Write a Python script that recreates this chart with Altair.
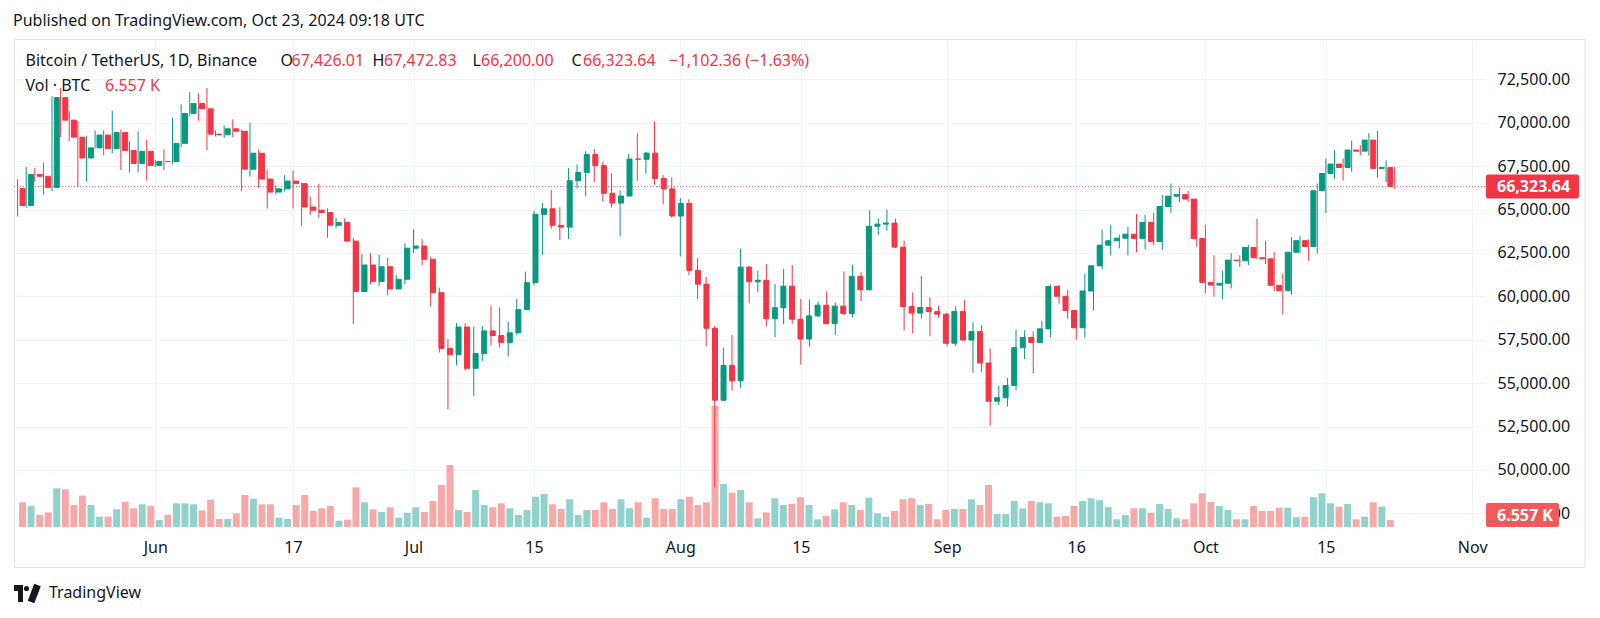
import altair as alt
import pandas as pd
import numpy as np

# ---------------- data (BTC/USDT daily, Binance) ----------------
dates = pd.date_range("2024-05-16", "2024-10-23", freq="D").strftime("%Y-%m-%d").tolist()

opens = [
    66206, 65235, 67024, 66915, 66274, 71446, 70148, 69166, 67969, 68549, 69290, 68507, 69436, 68398, 67652, 68352,
    67540, 67766, 67765, 68809, 70537, 71108, 70800, 69340, 69305, 69648, 69508, 67321, 68243, 66756, 66006, 66191,
    66639, 66490, 65146, 64960, 64828, 64096, 64252, 63180, 60277, 61804, 60864, 61706, 60427, 60986,
    62772, 62900, 62135, 60209, 56999, 56639, 58231, 55857, 56705, 58009, 57742, 57344, 57899, 59231, 60787, 64724,
    65043, 64087, 63987, 66660, 67139, 68165, 67532, 65936, 65372, 65777, 67907, 67896, 68249, 66784, 66188,
    64628, 65354, 61498, 60697, 58161, 54018, 56022, 55134, 61685, 60837, 60923, 58712, 59346, 60587, 58683, 57541,
    58874, 59491, 58427, 59438, 59013, 61156, 60381, 64037, 64157, 64220, 62834, 59415, 59034, 59359, 59123,
    58973, 57301, 59132, 57487, 57970, 56160, 53962, 54160, 54869, 57042, 57635, 57338, 58127, 60571, 60005, 59182,
    58192, 60309, 61759, 62947, 63201, 63348, 63578, 63339, 64262, 63152, 65173, 65769, 65858, 65602,
    63327, 60805, 60649, 60752, 62086, 62058, 62819, 62224, 62160, 60636, 60326, 62540, 63206, 62870, 66083, 67074,
    67620, 67421, 68428, 68362, 69001, 67367, 67426.01,
]
highs = [
    66752, 67451, 67400, 67700, 71515, 71979, 70666, 70096, 69250, 69562, 69562, 70687, 69591, 68935, 69500, 69020,
    67860, 68460, 70288, 71063, 71758, 71700, 71997, 69563, 69852, 70195, 69590, 69999, 68449, 67294, 66402, 66998,
    67244, 66556, 65738, 66482, 65066, 64525, 64490, 63369, 62436, 62480, 62389, 62225, 61224, 63058,
    63861, 63288, 62285, 60498, 57546, 58475, 58449, 58236, 58296, 59470, 59359, 58526, 59850, 61420, 64900, 65388,
    66128, 65133, 67386, 67598, 68366, 68480, 67750, 67102, 66112, 68200, 69399, 68318, 70079, 66986, 66849,
    65659, 65596, 62198, 61117, 58305, 57040, 57782, 62745, 61744, 61470, 61858, 60711, 61578, 61800, 59849,
    59817, 59700, 60284, 59617, 61432, 61820, 61400, 64955, 64494, 65000, 64481, 63212, 60234, 61166, 59944, 59462,
    59054, 59425, 59809, 58519, 58327, 56995, 54850, 55300, 58088, 58044, 57981, 58588, 60670, 60656, 60380,
    59210, 61320, 61786, 63850, 64133, 63559, 64000, 64745, 64688, 64817, 65839, 66498, 66260, 66076, 65630,
    64130, 62370, 61470, 62484, 62370, 62975, 64478, 63200, 62543, 61321, 63417, 63480, 63285, 66500, 67950,
    68424, 67939, 68969, 68691, 69400, 69520, 67836, 67472.83,
]
lows = [
    64602, 65106, 66600, 65857, 66060, 69162, 68920, 66300, 66600, 68510, 68128, 68250, 67277, 67124, 67128, 66670,
    67450, 67257, 67612, 68567, 70383, 70117, 68420, 69210, 69127, 69172, 66051, 66900, 66251, 65056, 65870, 66034,
    65056, 64066, 64693, 64500, 63379, 63943, 63180, 58402, 60240, 60700, 60606, 60063, 60383, 60712,
    62497, 61806, 59400, 56771, 53485, 56018, 55724, 54260, 56289, 57157, 57052, 56542, 57756, 59215, 60632, 62373,
    63900, 63238, 63300, 66222, 65777, 66573, 65441, 65111, 63456, 65754, 66650, 67066, 66428, 65302, 64530,
    62302, 61230, 59850, 57122, 49000, 53970, 54566, 54730, 59600, 60242, 58286, 57642, 58392, 58433, 56078,
    57098, 58785, 58408, 57787, 58913, 58783, 59724, 60345, 63531, 63773, 62800, 58034, 57860, 58716, 57701, 58744,
    57118, 57128, 57415, 55606, 55643, 52550, 53745, 53653, 54591, 56386, 55545, 57324, 57632, 59575, 58696,
    57493, 57610, 59174, 61555, 62350, 62759, 62357, 62538, 62700, 62947, 62670, 64819, 65422, 65432, 62856,
    60164, 59982, 59828, 60459, 61689, 61798, 62128, 61860, 60300, 58946, 60088, 62487, 62050, 62457, 64800,
    66750, 66666, 67177, 68110, 68100, 66840, 66571, 66200.00,
]
closes = [
    65235, 67024, 66915, 66274, 71446, 70148, 69166, 67969, 68549, 69290, 68507, 69436, 68398, 67652, 68352, 67540,
    67766, 67765, 68809, 70537, 71108, 70800, 69340, 69305, 69648, 69508, 67321, 68243, 66756, 66006, 66191, 66639,
    66490, 65146, 64960, 64828, 64096, 64252, 63180, 60277, 61804, 60864, 61706, 60427, 60986, 62772,
    62900, 62135, 60209, 56999, 56639, 58231, 55857, 56705, 58009, 57742, 57344, 57899, 59231, 60787, 64724, 65043,
    64087, 63987, 66660, 67139, 68165, 67532, 65936, 65372, 65777, 67907, 67896, 68249, 66784, 66188, 64628,
    65354, 61498, 60697, 58161, 54018, 56022, 55134, 61685, 60837, 60923, 58712, 59346, 60587, 58683, 57541,
    58874, 59491, 58427, 59438, 59013, 61156, 60381, 64037, 64157, 64220, 62834, 59415, 59034, 59359, 59123, 58973,
    57301, 59132, 57487, 57970, 56160, 53962, 54160, 54869, 57042, 57635, 57338, 58127, 60571, 60005, 59182,
    58192, 60309, 61759, 62947, 63201, 63348, 63578, 63339, 64262, 63152, 65173, 65769, 65858, 65602, 63327,
    60805, 60649, 60752, 62086, 62058, 62819, 62224, 62160, 60636, 60326, 62540, 63206, 62870, 66083, 67074,
    67620, 67421, 68428, 68362, 69001, 67367, 67426, 66323.64,
]
# volume in thousands of BTC
volumes_k = [
    23.1, 19.6, 11.2, 13.7, 36.2, 35.2, 20.6, 29.3, 20.6, 9.6, 9.6, 16.5, 23.6, 17.5, 21.2, 19.6,
    6.5, 11.2, 22.1, 22.1, 21.2, 15.6, 25.5, 7.5, 7.5, 12.8, 29.9, 26.4, 21.2, 21.2, 8.7, 7.5,
    20.6, 29.9, 15.0, 17.5, 19.6, 5.9, 6.8, 37.1, 23.1, 16.5, 14.0, 18.4, 8.7, 13.4,
    18.4, 14.0, 24.3, 39.3, 57.9, 15.9, 14.0, 34.6, 20.6, 18.4, 22.1, 17.5, 11.2, 15.9, 28.3, 30.8,
    21.2, 16.8, 25.9, 11.2, 15.9, 15.9, 23.1, 16.8, 25.9, 17.5, 23.1, 8.7, 26.8, 16.8, 16.8,
    25.9, 28.3, 20.6, 23.1, 113.4, 40.2, 32.1, 34.6, 23.1, 8.1, 13.7, 26.8, 20.6, 21.5, 27.8,
    20.6, 7.2, 10.3, 16.5, 23.1, 20.6, 15.9, 27.4, 12.8, 9.6, 15.0, 25.9, 26.8, 20.6, 21.5, 7.2,
    15.9, 16.8, 16.8, 25.9, 20.6, 39.3, 12.1, 12.1, 24.3, 17.5, 24.3, 23.1, 22.1, 9.6, 10.3,
    19.6, 24.3, 26.8, 25.0, 18.7, 7.2, 11.2, 17.5, 17.5, 13.4, 21.5, 16.8, 8.1, 7.2, 22.1,
    31.5, 23.4, 19.6, 15.9, 7.2, 7.2, 19.6, 15.0, 15.0, 18.0, 18.0, 9.1, 9.6, 27.8, 31.5,
    22.1, 19.0, 21.5, 7.2, 9.6, 23.1, 19.0, 6.557,
]
tick_dates = ["2024-06-01", "2024-06-17", "2024-07-01", "2024-07-15", "2024-08-01", "2024-08-15",
              "2024-09-01", "2024-09-16", "2024-10-01", "2024-10-15", "2024-11-01"]
price_ticks = [47500, 50000, 52500, 55000, 57500, 60000, 62500, 65000, 67500, 70000, 72500]

# ---------------- styling ----------------
FONT = "Noto Sans"
INK = "#131722"
UP, DOWN = "#089981", "#F23645"
VUP, VDOWN = "#92D2CC", "#F7A9A7"
GRID = "#F0F3FA"
W, H = 1471, 487


def ms(s):
    return int(pd.Timestamp(s).value // 1_000_000)


DAY = 86_400_000
t0 = ms(dates[0]) - int(0.4183 * DAY)
t1 = t0 + int(W / 8.607 * DAY)

df = pd.DataFrame({"t": [ms(d) for d in dates], "open": opens, "high": highs,
                   "low": lows, "close": closes, "vol": volumes_k})
df["dir"] = np.where(df["close"] >= df["open"], "up", "down")

xscale = alt.Scale(type="utc", domain=[t0, t1])
pscale = alt.Scale(domain=[46717, 74763], zero=False, nice=False)
vscale = alt.Scale(domain=[0, 455], nice=False)
cscale = alt.Scale(domain=["up", "down"], range=[UP, DOWN])
vcscale = alt.Scale(domain=["up", "down"], range=[VUP, VDOWN])

x_axis = alt.Axis(values=[ms(d) for d in tick_dates],
                  labelExpr="utcdate(datum.value) == 1 ? utcFormat(datum.value, '%b') : utcFormat(datum.value, '%d')",
                  grid=True, gridColor=GRID, domain=False, ticks=False, labelFontSize=16,
                  labelColor=INK, labelFont=FONT, labelPadding=12, title=None,
                  labelOverlap=False, labelFlush=False)
y_axis = alt.Axis(orient="right", values=price_ticks, format=",.2f", grid=True, gridColor=GRID,
                  domain=False, ticks=False, labelPadding=12, labelFontSize=16, labelColor=INK,
                  labelFont=FONT, title=None, labelOverlap=False, labelFlush=False)

base = alt.Chart(df)
X = alt.X("t:T", scale=xscale, axis=None)

volume = base.mark_bar(size=7).encode(
    x=X, y=alt.Y("vol:Q", scale=vscale, axis=None),
    color=alt.Color("dir:N", scale=vcscale, legend=None))

wicks = base.mark_rule(strokeWidth=1).encode(
    x=alt.X("t:T", scale=xscale, axis=x_axis),
    y=alt.Y("low:Q", scale=pscale, axis=y_axis), y2="high:Q",
    color=alt.Color("dir:N", scale=cscale, legend=None))

bodies = base.mark_bar(size=5, strokeWidth=1).encode(
    x=X, y=alt.Y("open:Q", scale=pscale, axis=None), y2="close:Q",
    color=alt.Color("dir:N", scale=cscale, legend=None),
    stroke=alt.Stroke("dir:N", scale=cscale, legend=None))

last = pd.DataFrame({"price": [closes[-1]], "label": [f"{closes[-1]:,.2f}"]})
last_line = alt.Chart(last).mark_rule(color=DOWN, strokeDash=[1, 2], strokeWidth=1, opacity=0.75).encode(
    y=alt.Y("price:Q", scale=pscale, axis=None), x=alt.value(0), x2=alt.value(W))
price_tag = alt.Chart(last).mark_rect(color=DOWN, cornerRadius=2, yOffset=-12, y2Offset=12).encode(
    y=alt.Y("price:Q", scale=pscale, axis=None), y2="price:Q", x=alt.value(1472), x2=alt.value(1565))
price_tag_text = alt.Chart(last).mark_text(align="left", baseline="middle", color="white",
                                           fontWeight="bold", fontSize=16, font=FONT).encode(
    y=alt.Y("price:Q", scale=pscale, axis=None), x=alt.value(1483), text="label:N")

vlast = pd.DataFrame({"label": [f"{volumes_k[-1]:.3f} K"]})
vol_tag = alt.Chart(vlast).mark_rect(color="#F05A5C", cornerRadius=2).encode(
    x=alt.value(1472), x2=alt.value(1545), y=alt.value(463), y2=alt.value(487))
vol_tag_text = alt.Chart(vlast).mark_text(align="left", baseline="middle", color="white",
                                          fontWeight="bold", fontSize=16, font=FONT).encode(
    x=alt.value(1483), y=alt.value(475.5), text="label:N")

# header texts
o, h, l, c = opens[-1], highs[-1], lows[-1], closes[-1]
header = pd.DataFrame([
    {"t": "Published on TradingView.com, Oct 23, 2024 09:18 UTC", "x": -1, "y": -19.5, "c": INK},
    {"t": "Bitcoin / TetherUS, 1D, Binance", "x": 11.5, "y": 21, "c": INK},
    {"t": "O", "x": 266.5, "y": 21, "c": INK},
    {"t": f"{o:,.2f}", "x": 277.5, "y": 21, "c": DOWN},
    {"t": "H", "x": 358.5, "y": 21, "c": INK},
    {"t": f"{h:,.2f}", "x": 370, "y": 21, "c": DOWN},
    {"t": "L", "x": 458.5, "y": 21, "c": INK},
    {"t": f"{l:,.2f}", "x": 467, "y": 21, "c": DOWN},
    {"t": "C", "x": 557.5, "y": 21, "c": INK},
    {"t": f"{c:,.2f}", "x": 569, "y": 21, "c": DOWN},
    {"t": "\u22121,102.36 (\u22121.63%)", "x": 654.5, "y": 21, "c": DOWN},
    {"t": "Vol \u00b7 BTC", "x": 11.5, "y": 46, "c": INK},
    {"t": f"{volumes_k[-1]:.3f} K", "x": 91, "y": 46, "c": DOWN},
    {"t": "TradingView", "x": 35, "y": 553, "c": INK},
])
header_text = alt.Chart(header).mark_text(align="left", baseline="middle", fontSize=16, font=FONT).encode(
    x=alt.X("x:Q", scale=None), y=alt.Y("y:Q", scale=None), text="t:N", color=alt.Color("c:N", scale=None))

# TradingView logo (approximate)
logo_rects = pd.DataFrame({"x": [0, 4], "x2": [9, 9], "y": [545, 545], "y2": [551, 562]})
logo_r = alt.Chart(logo_rects).mark_rect(color=INK).encode(
    x=alt.X("x:Q", scale=None), x2="x2:Q", y=alt.Y("y:Q", scale=None), y2="y2:Q")
logo_dot = alt.Chart(pd.DataFrame({"x": [12.5], "y": [548.5]})).mark_point(
    filled=True, color=INK, size=26, opacity=1).encode(x=alt.X("x:Q", scale=None), y=alt.Y("y:Q", scale=None))
logo_slash = alt.Chart(pd.DataFrame({"x": [23.5, 17], "y": [545, 562], "o": [0, 1]})).mark_line(
    color=INK, strokeWidth=7, strokeCap="butt").encode(
    x=alt.X("x:Q", scale=None), y=alt.Y("y:Q", scale=None), order="o:Q")

# panel border
border = alt.Chart(pd.DataFrame({"a": [0]})).mark_rect(fill=None, stroke="#E0E3EB", strokeWidth=1).encode(
    x=alt.value(0.5), x2=alt.value(1571), y=alt.value(-0.5), y2=alt.value(527.5))

chart = alt.layer(
    border, volume, last_line, wicks, bodies, price_tag, price_tag_text, vol_tag, vol_tag_text,
    header_text, logo_r, logo_dot, logo_slash,
).resolve_scale(x="independent", y="independent", color="independent", stroke="independent").properties(
    width=W, height=H,
    autosize=alt.AutoSizeParams(type="none"),
    padding={"left": 6, "top": 32, "right": 107, "bottom": 83},
    background="white",
).configure_view(stroke=None)

chart.save("out.html", embed_options={"renderer": "svg", "actions": False})
